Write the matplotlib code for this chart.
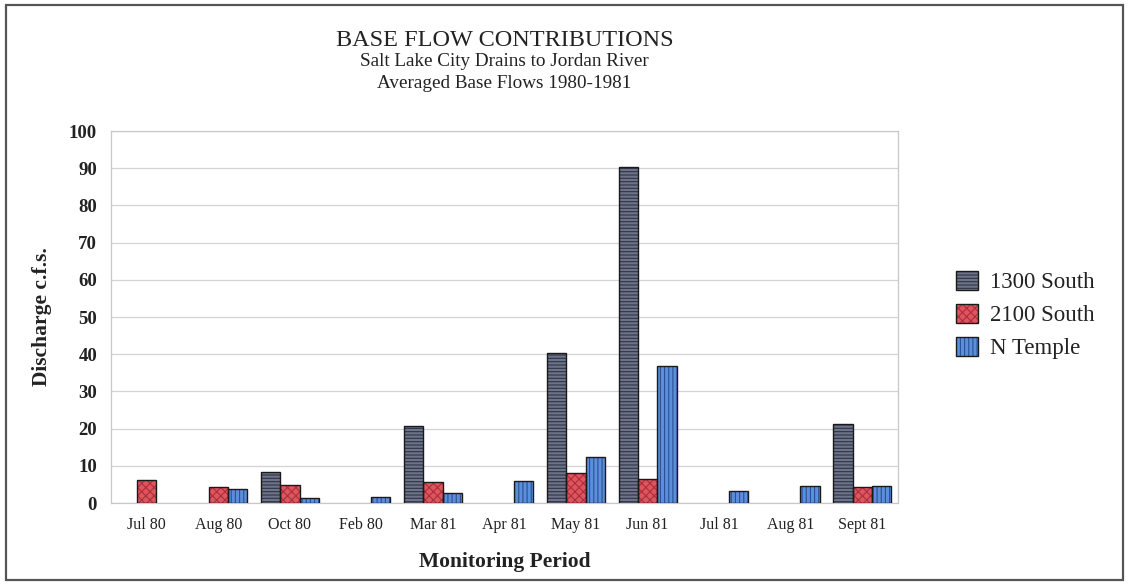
import matplotlib
matplotlib.use("Agg")
import matplotlib.pyplot as plt
import numpy as np
from matplotlib.patches import Rectangle
from matplotlib.legend_handler import HandlerTuple

categories = ["Jul 80", "Aug 80", "Oct 80", "Feb 80", "Mar 81", "Apr 81",
              "May 81", "Jun 81", "Jul 81", "Aug 81", "Sept 81"]
s1300 = [0, 0, 8.4, 0, 20.8, 0, 40.3, 90.3, 0, 0, 21.3]
s2100 = [6.2, 4.3, 4.9, 0, 5.7, 0, 8.1, 6.5, 0, 0, 4.3]
ntemple = [0, 3.8, 1.4, 1.6, 2.7, 5.8, 12.4, 36.8, 3.2, 4.6, 4.6]
series_names = ["1300 South", "2100 South", "N Temple"]
yticks = list(range(0, 101, 10))

plt.rcParams['font.family'] = ['Liberation Serif', 'DejaVu Serif']
plt.rcParams['hatch.linewidth'] = 0.8

W, H = 1129, 584
fig = plt.figure(figsize=(W / 100, H / 100), dpi=100)
ax = fig.add_axes([111 / W, 1 - 503 / H, (898 - 111) / W, (503 - 131) / H])

styles = [
    dict(face="#6e7488", hatch_col="#2f3448", hatch="-----"),
    dict(face="#e0545e", hatch_col="#a8303c", hatch="xxxx"),
    dict(face="#5b8fdc", hatch_col="#2c4f95", hatch="||||"),
]
data = [s1300, s2100, ntemple]
x = np.arange(len(categories))
bw = 0.27
handles = []
for i, (vals, st) in enumerate(zip(data, styles)):
    pos = x + (i - 1) * bw
    vals = np.array(vals)
    mask = vals > 0
    b1 = ax.bar(pos[mask], vals[mask], bw, facecolor=st["face"],
                edgecolor=st["hatch_col"], hatch=st["hatch"], linewidth=0, zorder=3)
    b2 = ax.bar(pos[mask], vals[mask], bw, fill=False, edgecolor="#1a1a1a",
                linewidth=1.0, zorder=4)
    handles.append((b1[0], b2[0]))

ax.set_xlim(-0.5, len(categories) - 0.5)
ax.set_ylim(0, 100)
ax.set_yticks(yticks)
ax.set_yticklabels([str(t) for t in yticks], fontsize=13.5, fontweight="bold", color="#222222")
ax.set_xticks(x)
ax.set_xticklabels(categories, fontsize=11.5, color="#222222")
ax.tick_params(axis="both", length=0)
ax.tick_params(axis="y", pad=10)
ax.tick_params(axis="x", pad=10)
ax.grid(axis="y", color="#d4d4d4", linewidth=0.9, zorder=0)
for sp in ax.spines.values():
    sp.set_color("#c8c8c8")
    sp.set_linewidth(0.9)

ax.set_ylabel("Discharge c.f.s.", fontsize=15.5, fontweight="bold", color="#222222")
ax.yaxis.set_label_coords((42 - 111) / (898 - 111), 0.5)
ax.set_xlabel("Monitoring Period", fontsize=15.5, fontweight="bold", color="#222222")
ax.xaxis.set_label_coords(0.5, -(562 - 503) / (503 - 131))
ax.xaxis.label.set_va("center")
ax.yaxis.label.set_va("center")

cx = (111 + 898) / 2 / W
fig.text(cx, 1 - 40 / H, "BASE FLOW CONTRIBUTIONS", ha="center", va="center",
         fontsize=17.5, color="#222222")
fig.text(cx, 1 - 62 / H, "Salt Lake City Drains to Jordan River", ha="center", va="center",
         fontsize=13.8, color="#222222")
fig.text(cx, 1 - 83 / H, "Averaged Base Flows 1980-1981", ha="center", va="center",
         fontsize=13.8, color="#222222")

leg = fig.legend(handles, series_names, loc="center left",
                 bbox_to_anchor=(956 / W, 1 - 315 / H), frameon=False,
                 fontsize=16.5, handler_map={tuple: HandlerTuple(ndivide=1)},
                 handlelength=0.95, handleheight=0.95, handletextpad=0.55,
                 labelspacing=0.45, borderpad=0, borderaxespad=0)
for t in leg.get_texts():
    t.set_color("#222222")

fig.patches.append(Rectangle((6 / W, 1 - 580 / H), (1123 - 6) / W, (580 - 5) / H,
                             transform=fig.transFigure, fill=False,
                             edgecolor="#555555", linewidth=1.6))

fig.savefig("out.png", dpi=100)
